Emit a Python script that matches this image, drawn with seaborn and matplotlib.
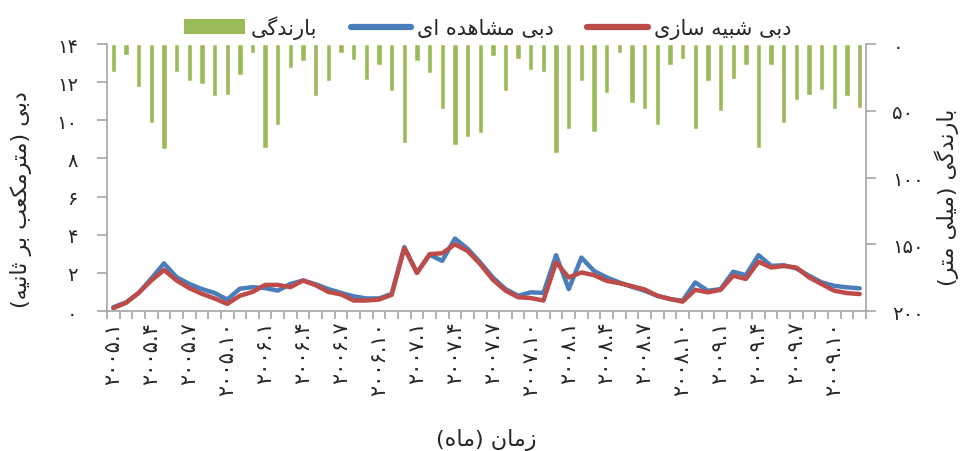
import matplotlib
matplotlib.use("Agg")
import matplotlib.pyplot as plt
from matplotlib.patches import Patch
from matplotlib.lines import Line2D
import numpy as np
import pandas as pd
import seaborn as sns

# monthly values, 2005/1 .. 2009/12
rain = [21, 8, 32, 59, 79, 21, 28, 30, 39, 38, 23, 7, 78, 61, 18,
        13, 39, 28, 7, 12, 27, 16, 35, 74, 13, 22, 49, 76, 70, 67,
        9, 35, 11, 19.5, 21, 82, 64, 28, 66, 37, 7, 44, 49, 61, 16,
        11, 64, 27.5, 50, 26, 16, 78, 16, 59, 42, 38, 34.5, 49, 39, 48]
observed = [0.2, 0.45, 0.95, 1.7, 2.5, 1.77, 1.42, 1.15, 0.95, 0.6, 1.17, 1.25, 1.2, 1.07, 1.42,
            1.6, 1.4, 1.15, 0.95, 0.77, 0.66, 0.66, 0.9, 3.35, 2.0, 2.95, 2.63, 3.8, 3.27, 2.55,
            1.76, 1.15, 0.8, 0.98, 0.95, 2.93, 1.15, 2.8, 2.1, 1.76, 1.5, 1.27, 1.06, 0.8, 0.63,
            0.54, 1.5, 1.06, 1.15, 2.06, 1.88, 2.93, 2.37, 2.4, 2.23, 1.85, 1.5, 1.32, 1.24, 1.19]
simulated = [0.15, 0.43, 0.95, 1.6, 2.15, 1.6, 1.2, 0.9, 0.66, 0.37, 0.8, 1.0, 1.37, 1.37, 1.25,
             1.6, 1.35, 1.0, 0.87, 0.55, 0.55, 0.6, 0.85, 3.3, 2.0, 2.98, 3.03, 3.5, 3.15, 2.46,
             1.64, 1.07, 0.72, 0.68, 0.55, 2.55, 1.76, 2.02, 1.88, 1.58, 1.46, 1.3, 1.13, 0.8, 0.63,
             0.49, 1.11, 0.98, 1.11, 1.85, 1.68, 2.58, 2.28, 2.36, 2.28, 1.76, 1.41, 1.06, 0.94, 0.89]

month_labels = ["۲۰۰۵.۱", "۲۰۰۵.۴", "۲۰۰۵.۷", "۲۰۰۵.۱۰",
                "۲۰۰۶.۱", "۲۰۰۶.۴", "۲۰۰۶.۷", "۲۰۰۶.۱۰",
                "۲۰۰۷.۱", "۲۰۰۷.۴", "۲۰۰۷.۷", "۲۰۰۷.۱۰",
                "۲۰۰۸.۱", "۲۰۰۸.۴", "۲۰۰۸.۷", "۲۰۰۸.۱۰",
                "۲۰۰۹.۱", "۲۰۰۹.۴", "۲۰۰۹.۷", "۲۰۰۹.۱۰"]
left_ticks = ["۰", "۲", "۴", "۶", "۸", "۱۰", "۱۲", "۱۴"]
right_ticks = ["۰", "۵۰", "۱۰۰", "۱۵۰", "۲۰۰"]

LBL_RAIN = "بارندگی"
LBL_OBS = "دبی مشاهده ای"
LBL_SIM = "دبی شبیه سازی"
YLABEL_LEFT = "دبی (مترمکعب بر ثانیه)"
YLABEL_RIGHT = "بارندگی (میلی متر)"
XLABEL = "زمان (ماه)"

# contextual forms (isolated, final, initial, medial) -- no shaping engine in matplotlib
FORMS = {
    "ا": ("\uFE8D", "\uFE8E", None, None),
    "ب": ("\uFE8F", "\uFE90", "\uFE91", "\uFE92"),
    "ت": ("\uFE95", "\uFE96", "\uFE97", "\uFE98"),
    "ث": ("\uFE99", "\uFE9A", "\uFE9B", "\uFE9C"),
    "د": ("\uFEA9", "\uFEAA", None, None),
    "ر": ("\uFEAD", "\uFEAE", None, None),
    "ز": ("\uFEAF", "\uFEB0", None, None),
    "س": ("\uFEB1", "\uFEB2", "\uFEB3", "\uFEB4"),
    "ش": ("\uFEB5", "\uFEB6", "\uFEB7", "\uFEB8"),
    "ع": ("\uFEC9", "\uFECA", "\uFECB", "\uFECC"),
    "ل": ("\uFEDD", "\uFEDE", "\uFEDF", "\uFEE0"),
    "م": ("\uFEE1", "\uFEE2", "\uFEE3", "\uFEE4"),
    "ن": ("\uFEE5", "\uFEE6", "\uFEE7", "\uFEE8"),
    "ه": ("\uFEE9", "\uFEEA", "\uFEEB", "\uFEEC"),
    "ی": ("\uFBFC", "\uFBFD", "\uFBFE", "\uFBFF"),
    "ک": ("\uFB8E", "\uFB8F", "\uFB90", "\uFB91"),
    "گ": ("\uFB92", "\uFB93", "\uFB94", "\uFB95"),
}
MIRROR = {"(": ")", ")": "("}


def fa(text):
    out = []
    for i, ch in enumerate(text):
        if ch not in FORMS:
            out.append(MIRROR.get(ch, ch))
            continue
        prev = text[i - 1] if i > 0 else None
        nxt = text[i + 1] if i + 1 < len(text) else None
        join_prev = prev in FORMS and FORMS[prev][2] is not None
        join_next = FORMS[ch][2] is not None and nxt in FORMS
        iso, fin, ini, med = FORMS[ch]
        if join_prev and join_next:
            out.append(med)
        elif join_prev:
            out.append(fin)
        elif join_next:
            out.append(ini)
        else:
            out.append(iso)
    return "".join(reversed(out))


def main():
    sns.set_style("white")
    plt.rcParams['font.family'] = ['DejaVu Sans']

    blue = "#4A7EBB"
    red = "#BE4B48"
    green = "#9BBB59"
    grey = "#A6A6A6"

    n = len(rain)
    df = pd.DataFrame({"month": np.arange(n), "rain": rain,
                       "observed": observed, "simulated": simulated})

    fig = plt.figure(figsize=(9.66, 4.52), dpi=100)
    ax = fig.add_axes([0.1108, 0.3097, 0.7857, 0.5907])
    ax2 = ax.twinx()

    sns.barplot(data=df, x="month", y="rain", color=green, width=0.42,
                saturation=1, ax=ax2)
    ax2.set_ylim(200, 0)

    sns.lineplot(data=df, x="month", y="observed", color=blue, linewidth=3.2, ax=ax)
    sns.lineplot(data=df, x="month", y="simulated", color=red, linewidth=3.2, ax=ax)
    ax.set_zorder(ax2.get_zorder() + 1)
    ax.patch.set_visible(False)

    ax.set_ylim(0, 14)
    ax.set_xlim(-0.5, n - 0.5)

    ax.set_yticks(np.arange(0, 15, 2))
    ax.set_yticklabels(left_ticks)
    ax2.set_yticks(np.arange(0, 201, 50))
    ax2.set_yticklabels(right_ticks)

    ax.set_xticks(np.arange(0, n, 3))
    ax.set_xticklabels(month_labels, rotation=90, va="top", ha="center")
    ax.set_xticks(np.arange(-0.5, n, 1), minor=True)

    for a in (ax, ax2):
        a.spines["top"].set_visible(False)
        for s in ("left", "right", "bottom"):
            a.spines[s].set_color(grey)
            a.spines[s].set_linewidth(1.2)
    ax.spines["right"].set_visible(False)
    ax2.spines["left"].set_visible(False)
    ax2.spines["bottom"].set_visible(False)

    ax.tick_params(axis="y", direction="out", length=7, width=1.2, color=grey,
                   labelsize=14, pad=14, left=True)
    ax2.tick_params(axis="y", direction="out", length=7, width=1.2, color=grey,
                    labelsize=14, pad=12, right=True)
    ax.tick_params(axis="x", which="major", length=0, labelsize=15, pad=7)
    ax.tick_params(axis="x", which="minor", direction="out", length=6, width=1.2,
                   color=grey, bottom=True)

    ax.set_ylabel(fa(YLABEL_LEFT), fontsize=16)
    ax.yaxis.set_label_coords(-0.099, 0.42)
    ax2.set_ylabel(fa(YLABEL_RIGHT), fontsize=16, rotation=90)
    ax2.yaxis.set_label_coords(1.09, 0.43)
    ax.set_xlabel(fa(XLABEL), fontsize=16, labelpad=24)

    handles = [Patch(facecolor=green, edgecolor="none"),
               Line2D([], [], color=blue, linewidth=4.5),
               Line2D([], [], color=red, linewidth=4.5)]
    labels = [fa(LBL_RAIN), fa(LBL_OBS), fa(LBL_SIM)]
    fig.legend(handles, labels, loc="center", ncol=3, frameon=False,
               bbox_to_anchor=(0.505, 0.938), fontsize=15, handlelength=2.9,
               handleheight=0.7, handletextpad=0.3, columnspacing=1.6)

    fig.savefig("out.png", dpi=100)
    plt.close(fig)


if __name__ == '__main__':
    main()
